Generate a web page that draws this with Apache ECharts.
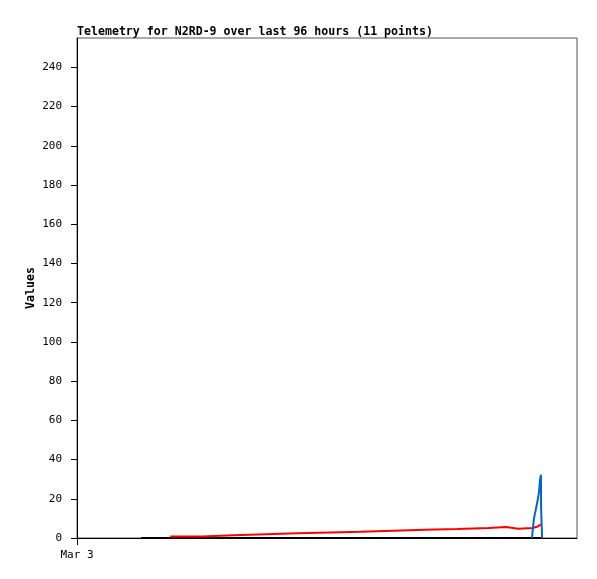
<!DOCTYPE html>
<html>
<head>
<meta charset="utf-8">
<script src="https://cdn.jsdelivr.net/npm/echarts@6/dist/echarts.min.js"></script>
<style>
  html, body { margin: 0; padding: 0; background: #fff; }
  #chart { width: 597px; height: 579px; }
</style>
</head>
<body>
<div id="chart"></div>
<script>
// hours since start of window (Mar 3)
var redHours = [17.9, 24, 30, 36.3, 42.4, 48.4, 54.5, 60.7, 66.8, 73, 79.1, 82.4, 84.7, 87.4, 88.5, 89.1];
var redValues = [0.8, 1.4, 1.9, 2.4, 2.8, 3.2, 3.7, 4.2, 4.6, 5.1, 5.6, 4.7, 5.1, 5.9, 6.9, 6.9];
var blackHours = [12.3, 89.1];
var blackValues = [0, 0];
var blueHours = [87.36, 87.5, 87.74, 88.13, 88.5, 88.7, 88.9, 89.08, 89.1, 89.3, 89.3];
var blueValues = [0, 4, 10, 15, 20, 23.5, 29.6, 32.2, 15.8, 15.8, 0];
var xTickLabels = { 0: "Mar 3" };

function pairs(xs, ys) {
  var out = [];
  for (var i = 0; i < xs.length; i++) out.push([xs[i], ys[i]]);
  return out;
}

var chart = echarts.init(document.getElementById("chart"));
var mono = "DejaVu Sans Mono";
chart.setOption({
  animation: false,
  backgroundColor: "#fff",
  title: {
    text: "Telemetry for N2RD-9 over last 96 hours (11 points)",
    left: 77,
    top: 26,
    padding: 0,
    textStyle: { fontFamily: mono, fontWeight: "bold", fontSize: 11.6, color: "#000" }
  },
  grid: {
    left: 77, top: 38, right: 20, bottom: 41,
    show: true, borderColor: "#555", borderWidth: 1
  },
  xAxis: {
    type: "value",
    min: 0, max: 96, interval: 96,
    axisLine: { lineStyle: { color: "#000", width: 1 } },
    axisTick: { show: true, length: 7, customValues: [0], lineStyle: { color: "#000" } },
    axisLabel: {
      customValues: [0],
      fontFamily: mono, fontSize: 11, color: "#000", margin: 12,
      formatter: function (v) { return xTickLabels[v] || ""; }
    },
    splitLine: { show: false }
  },
  yAxis: {
    type: "value",
    min: 0, max: 255, interval: 20,
    name: "Values",
    nameLocation: "middle",
    nameGap: 40,
    nameMoveOverlap: false,
    nameTextStyle: { fontFamily: mono, fontWeight: "bold", fontSize: 11.6, color: "#000" },
    axisLine: { show: true, lineStyle: { color: "#000", width: 1 } },
    axisTick: { show: true, length: 6, lineStyle: { color: "#000" } },
    axisLabel: {
      fontFamily: mono, fontSize: 11, color: "#000", margin: 15,
      showMaxLabel: false
    },
    splitLine: { show: false }
  },
  series: [
    {
      type: "line",
      data: pairs(blackHours, blackValues),
      symbol: "none",
      lineStyle: { color: "#000", width: 2 }
    },
    {
      type: "line",
      step: "end",
      data: pairs(redHours, redValues),
      symbol: "none",
      lineStyle: { color: "#ff0000", width: 2 }
    },
    {
      type: "line",
      data: pairs(blueHours, blueValues),
      symbol: "none",
      lineStyle: { color: "#0066cc", width: 2 }
    }
  ]
});
</script>
</body>
</html>
